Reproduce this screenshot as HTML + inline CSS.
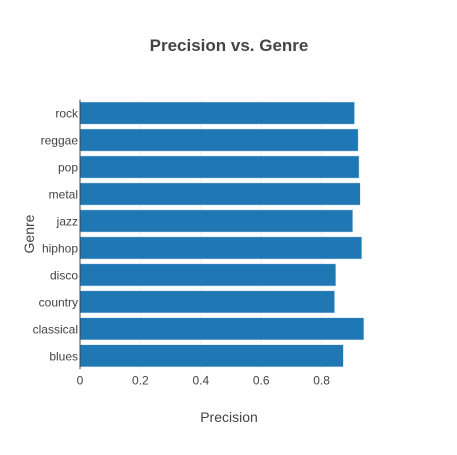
<!DOCTYPE html>
<html><head><style>
body{margin:0;background:#fff;font-family:"Liberation Sans",sans-serif;}
</style></head><body>
<svg width="457" height="450" xmlns="http://www.w3.org/2000/svg">
<rect width="457" height="450" fill="#fff"/>
<text x="229" y="51" text-anchor="middle" font-size="17" font-weight="bold" fill="#444">Precision vs. Genre</text>
<g id="grid"></g>
<g id="bars"></g>
<g id="axes"></g>
<text x="229" y="422" text-anchor="middle" font-size="14" fill="#444">Precision</text>
<text transform="translate(34,234) rotate(-90)" text-anchor="middle" font-size="14" fill="#444">Genre</text>
</svg>
<script>
const categories=["blues","classical","country","disco","hiphop","jazz","metal","pop","reggae","rock"];
const values=[0.872,0.94,0.843,0.847,0.933,0.903,0.928,0.924,0.921,0.909];
const xTicks=[0,0.2,0.4,0.6,0.8];
const xTickLabels=["0","0.2","0.4","0.6","0.8"];
const NS="http://www.w3.org/2000/svg";
const x0=80,xs=302,yTop=99.6,yBot=369.3;
const band=(yBot-yTop)/categories.length;
const X=v=>x0+v*xs;
const Y=i=>yBot-(i+1)*band;
function mk(t,a,p){const e=document.createElementNS(NS,t);for(const k in a)e.setAttribute(k,a[k]);p.appendChild(e);return e;}
const grid=document.getElementById('grid'),bars=document.getElementById('bars'),axes=document.getElementById('axes');
xTicks.forEach((t,i)=>{
 if(t!==0){const g=mk('line',{x1:X(t),x2:X(t),y1:yTop,y2:yBot,stroke:'#eee','stroke-width':1},grid);
 
 }
 const l=mk('text',{x:X(t),y:yBot+15,'text-anchor':'middle','font-size':12,fill:'#444'},axes);
 l.textContent=xTickLabels[i];
 
 
});
categories.forEach((c,i)=>{
 const pad=band*0.09;
 const r=mk('rect',{x:X(0),y:Y(i)+pad,width:X(values[i])-X(0),height:band-2*pad,fill:'#1f77b4',stroke:'#d0e0f0','stroke-width':0.5},bars);
 
 
 const l=mk('text',{x:x0-2,y:Y(i)+band/2+4.5,'text-anchor':'end','font-size':12,fill:'#444'},axes);
 l.textContent=c;
 
 
});
const zl=mk('line',{x1:X(0),x2:X(0),y1:yTop,y2:yBot,stroke:'#444','stroke-width':1},axes);


</script>
</body></html>
